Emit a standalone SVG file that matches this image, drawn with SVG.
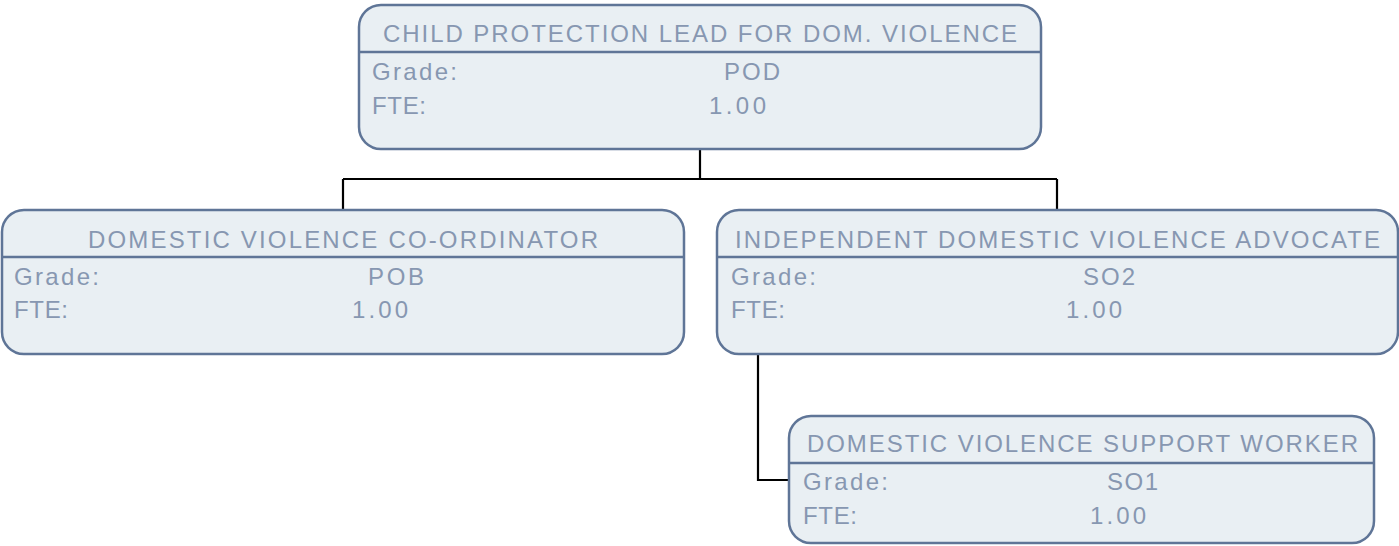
<svg xmlns="http://www.w3.org/2000/svg" width="1399" height="546" viewBox="0 0 1399 546">
<style>
.box{fill:#e9eff3;stroke:#5f7597;stroke-width:2.5}
.div{stroke:#5f7597;stroke-width:2.5}
.t{font-family:"Liberation Sans",Arial,sans-serif;font-size:24px;fill:#8797b1}
.conn{fill:none;stroke:#000;stroke-width:2.2}
</style>
<rect width="1399" height="546" fill="#fff"/>
<g id="connectors">
<path class="conn" d="M700,149 V179 M343,179 H1057 M343,179 V210 M1057,179 V210"/>
<path class="conn" d="M758,354 V480 H789"/>
</g>
<g id="node-lead">
<rect class="box" x="359" y="5" width="682" height="144" rx="22"/>
<line class="div" x1="359" y1="52" x2="1041" y2="52"/>
<text class="t" x="383" y="42" textLength="634" lengthAdjust="spacing">CHILD PROTECTION LEAD FOR DOM. VIOLENCE</text>
<text class="t" x="372" y="80" textLength="85" lengthAdjust="spacing">Grade:</text>
<text class="t" x="724" y="80" textLength="56" lengthAdjust="spacing">POD</text>
<text class="t" x="372" y="114" textLength="54" lengthAdjust="spacing">FTE:</text>
<text class="t" x="709" y="114" textLength="57" lengthAdjust="spacing">1.00</text>
</g>
<g id="node-coordinator">
<rect class="box" x="2" y="210" width="682" height="144" rx="22"/>
<line class="div" x1="2" y1="257" x2="684" y2="257"/>
<text class="t" x="88" y="248" textLength="510" lengthAdjust="spacing">DOMESTIC VIOLENCE CO-ORDINATOR</text>
<text class="t" x="14" y="285" textLength="85" lengthAdjust="spacing">Grade:</text>
<text class="t" x="368" y="285" textLength="56" lengthAdjust="spacing">POB</text>
<text class="t" x="14" y="318" textLength="54" lengthAdjust="spacing">FTE:</text>
<text class="t" x="352" y="318" textLength="56" lengthAdjust="spacing">1.00</text>
</g>
<g id="node-idva">
<rect class="box" x="717" y="210" width="681" height="144" rx="22"/>
<line class="div" x1="717" y1="257" x2="1398" y2="257"/>
<text class="t" x="735" y="248" textLength="645" lengthAdjust="spacing">INDEPENDENT DOMESTIC VIOLENCE ADVOCATE</text>
<text class="t" x="731" y="285" textLength="85" lengthAdjust="spacing">Grade:</text>
<text class="t" x="1083" y="285" textLength="52" lengthAdjust="spacing">SO2</text>
<text class="t" x="731" y="318" textLength="54" lengthAdjust="spacing">FTE:</text>
<text class="t" x="1066" y="318" textLength="56" lengthAdjust="spacing">1.00</text>
</g>
<g id="node-support">
<rect class="box" x="789" y="416" width="585" height="127" rx="22"/>
<line class="div" x1="789" y1="463" x2="1374" y2="463"/>
<text class="t" x="807" y="452" textLength="551" lengthAdjust="spacing">DOMESTIC VIOLENCE SUPPORT WORKER</text>
<text class="t" x="803" y="490" textLength="85" lengthAdjust="spacing">Grade:</text>
<text class="t" x="1107" y="490" textLength="51" lengthAdjust="spacing">SO1</text>
<text class="t" x="803" y="524" textLength="54" lengthAdjust="spacing">FTE:</text>
<text class="t" x="1090" y="524" textLength="56" lengthAdjust="spacing">1.00</text>
</g>
</svg>
